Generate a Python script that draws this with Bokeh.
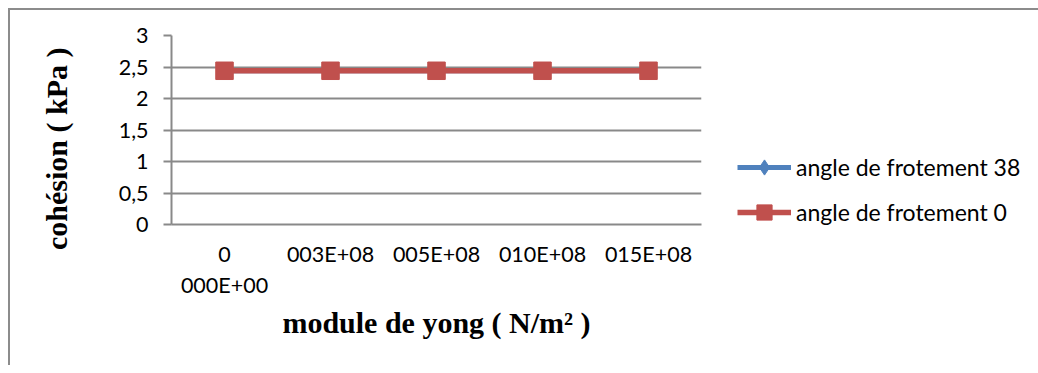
import math
from bokeh.plotting import figure
from bokeh.models import FixedTicker, Legend, LegendItem, Range1d
from bokeh.embed import file_html
from bokeh.resources import INLINE

# ---- data ----
categories = ["0\n000E+00", "003E+08", "005E+08", "010E+08", "015E+08"]
series_38 = [2.44, 2.44, 2.44, 2.44, 2.44]
series_0 = [2.44, 2.44, 2.44, 2.44, 2.44]
series_names = ["angle de frotement 38", "angle de frotement 0"]
y_ticks = [0, 0.5, 1, 1.5, 2, 2.5, 3]
y_tick_labels = ["0", "0,5", "1", "1,5", "2", "2,5", "3"]
x_title = "module de yong ( N/m² )"
y_title = "cohésion ( kPa )"

x = list(range(1, len(categories) + 1))

GRID = "#898989"
BLUE = "#4F81BD"
RED = "#C0504D"
SANS = "Lato"
SERIF = "Liberation Serif"

p = figure(frame_width=530, frame_height=189,
           min_border_left=161, min_border_right=329,
           min_border_top=25, min_border_bottom=141,
           x_range=Range1d(0.5, len(categories) + 0.5), y_range=Range1d(0, 3),
           output_backend="svg", toolbar_location=None)
p.margin = (8, 0, 0, 8)
p.styles = {"border-top": "2px solid #8c8c8c", "border-left": "2px solid #8c8c8c"}
p.outline_line_color = None
p.background_fill_color = "white"
p.border_fill_color = "white"

# grid
p.xgrid.visible = False
p.ygrid.grid_line_color = GRID
p.ygrid.grid_line_width = 2

# y axis
ya = p.yaxis[0]
ya.ticker = FixedTicker(ticks=y_ticks)
ya.major_label_overrides = {t: l for t, l in zip(y_ticks, y_tick_labels)}
ya.minor_tick_line_color = None
ya.major_tick_in = 0
ya.major_tick_out = 8
ya.major_tick_line_color = GRID
ya.major_tick_line_width = 2
ya.axis_line_color = GRID
ya.axis_line_width = 2
ya.major_label_standoff = 15
ya.major_label_text_font = SANS
ya.major_label_text_font_size = "21.5px"
ya.major_label_text_color = "black"
# trailing no-break spaces push the centred title a little lower, as in the reference
ya.axis_label = y_title + "\u00a0" * 5
ya.axis_label_text_font = SERIF
ya.axis_label_text_font_style = "bold"
ya.axis_label_text_font_size = "30px"
ya.axis_label_text_color = "black"
ya.axis_label_standoff = 43

# x axis
xa = p.xaxis[0]
xa.ticker = FixedTicker(ticks=x)
xa.major_label_overrides = {t: l for t, l in zip(x, categories)}
xa.minor_tick_line_color = None
xa.major_tick_in = 0
xa.major_tick_out = 0
xa.axis_line_color = GRID
xa.axis_line_width = 2
xa.major_label_standoff = 16
xa.major_label_text_font = SANS
xa.major_label_text_font_size = "21.5px"
xa.major_label_text_color = "black"
xa.axis_label = x_title
xa.axis_label_text_font = SERIF
xa.axis_label_text_font_style = "bold"
xa.axis_label_text_font_size = "30px"
xa.axis_label_text_color = "black"
xa.axis_label_standoff = 5

# series
l1 = p.line(x, series_38, line_color=BLUE, line_width=5)
s1 = p.scatter(x, series_38, marker="diamond", angle=math.pi / 2, size=16,
               fill_color=BLUE, line_color=BLUE, line_width=1)
l2 = p.line(x, series_0, line_color=RED, line_width=5.5)
s2 = p.scatter(x, series_0, marker="square", size=17.5, fill_color=RED, line_color=RED)

legend = Legend(items=[LegendItem(label=series_names[0], renderers=[l1, s1]),
                       LegendItem(label=series_names[1], renderers=[l2, s2])],
                location=(36, -7), orientation="vertical",
                padding=0, margin=0, spacing=7,
                glyph_width=54, glyph_height=38, label_height=20,
                label_standoff=5,
                label_text_font=SANS, label_text_font_size="23px",
                label_text_color="black",
                border_line_color=None, background_fill_alpha=0)
p.add_layout(legend, "right")

open("out.html", "w").write(file_html(p, INLINE))
